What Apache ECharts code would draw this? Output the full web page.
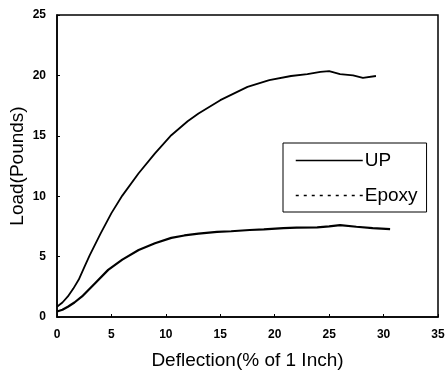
<!DOCTYPE html>
<html>
<head>
<meta charset="utf-8">
<script src="https://cdn.jsdelivr.net/npm/echarts@6/dist/echarts.min.js"></script>
<style>
  html, body { margin: 0; padding: 0; background: #fff; }
  #main { width: 448px; height: 370px; }
</style>
</head>
<body>
<div id="main"></div>
<script>
// load vs deflection
var upX = [0, 0.5, 1, 1.5, 2, 2.5, 3, 4, 5, 6, 7.5, 9, 10.5, 12, 13, 15, 17.5, 19.5, 21.5, 23, 24.2, 25, 26, 27.2, 28.1, 29.3];
var upY = [0.85, 1.2, 1.7, 2.35, 3.1, 4.1, 5.1, 6.9, 8.6, 10.05, 11.9, 13.55, 15.05, 16.2, 16.85, 17.95, 19.05, 19.6, 19.95, 20.1, 20.3, 20.35, 20.1, 20.0, 19.8, 19.95];

var epoxyX = [0, 0.5, 1, 1.6, 2.3, 3.5, 4.7, 6, 7.5, 9, 10.5, 11.7, 13, 14.7, 16, 17.7, 19, 20.8, 22, 23.9, 25, 26, 27.5, 29, 30.6];
var epoxyY = [0.45, 0.6, 0.85, 1.2, 1.7, 2.8, 3.9, 4.75, 5.55, 6.1, 6.55, 6.75, 6.9, 7.05, 7.1, 7.2, 7.25, 7.35, 7.4, 7.42, 7.5, 7.6, 7.47, 7.35, 7.28];

function pairs(xs, ys) {
    return xs.map(function (x, i) { return [x, ys[i]]; });
}

var font = 'Liberation Sans, Arial, sans-serif';

var myChart = echarts.init(document.getElementById('main'));
myChart.setOption({
    backgroundColor: '#fff',
    animation: false,
    grid: {
        left: 57, right: 10, top: 15, bottom: 53,
        outerBoundsMode: 'none',
        show: true,
        borderColor: '#000',
        borderWidth: 1.5
    },
    legend: {
        orient: 'vertical',
        left: 283, top: 143,
        padding: [8, 9, 7, 12],
        itemWidth: 67, itemHeight: 14, itemGap: 16,
        borderColor: '#000', borderWidth: 1,
        backgroundColor: '#fff',
        itemStyle: { opacity: 0 },
        textStyle: { fontFamily: font, fontSize: 19, color: '#000', padding: [0, 0, 0, -3] },
        data: [
            { name: 'UP', lineStyle: { type: 'solid', width: 1.5 } },
            { name: 'Epoxy', lineStyle: { type: [3, 5], width: 1.5 } }
        ]
    },
    xAxis: {
        type: 'value',
        min: 0, max: 35, interval: 5,
        name: 'Deflection(% of 1 Inch)',
        nameLocation: 'middle',
        nameMoveOverlap: false,
        nameGap: 34,
        nameTextStyle: { fontFamily: font, fontSize: 19, color: '#000' },
        axisLine: { lineStyle: { color: '#000', width: 1.5 } },
        axisTick: { inside: true, length: 3, lineStyle: { color: '#000' } },
        axisLabel: { fontFamily: font, fontSize: 12, fontWeight: 'bold', color: '#000', margin: 12 },
        splitLine: { show: false }
    },
    yAxis: {
        type: 'value',
        min: 0, max: 25, interval: 5,
        name: 'Load(Pounds)',
        nameLocation: 'middle',
        nameMoveOverlap: false,
        nameGap: 30,
        nameTextStyle: { fontFamily: font, fontSize: 19, color: '#000' },
        axisLine: { show: true, lineStyle: { color: '#000', width: 1.5 } },
        axisTick: { show: true, inside: true, length: 3, lineStyle: { color: '#000' } },
        axisLabel: { fontFamily: font, fontSize: 12, fontWeight: 'bold', color: '#000', margin: 11 },
        splitLine: { show: false }
    },
    series: [
        {
            name: 'UP',
            type: 'line',
            symbol: 'none',
            lineStyle: { color: '#000', width: 1.8 },
            itemStyle: { color: '#000' },
            data: pairs(upX, upY)
        },
        {
            name: 'Epoxy',
            type: 'line',
            symbol: 'none',
            lineStyle: { color: '#000', width: 2.2 },
            itemStyle: { color: '#000' },
            data: pairs(epoxyX, epoxyY)
        }
    ]
});
</script>
</body>
</html>
